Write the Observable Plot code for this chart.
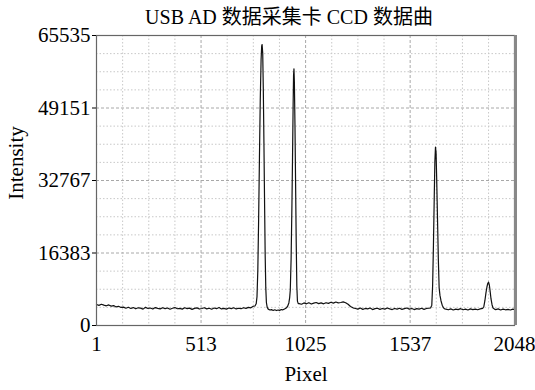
<!DOCTYPE html>
<html><head><meta charset="utf-8">
<script src="https://cdn.jsdelivr.net/npm/d3@7"></script>
<script src="https://cdn.jsdelivr.net/npm/@observablehq/plot@0.6"></script>
<style>body{margin:0;background:#fff}</style>
</head><body><div id="chart"></div>
<script>
const title = "USB AD 数据采集卡 CCD 数据曲";
const xLabel = "Pixel";
const yLabel = "Intensity";
const xTicks = [1, 513, 1025, 1537, 2048];
const yTicks = [0, 16383, 32767, 49151, 65535];
const xGrid = [129, 257, 385, 641, 769, 897, 1153, 1281, 1409, 1665, 1793, 1921];
const yGrid = [4096, 8192, 12288, 20480, 24576, 28672, 36864, 40960, 45056, 53248, 57344, 61440];

// [pixel, intensity]
const baselineLeft = [[1,4750],[13,4550],[25,4800],[37,4600],[49,4450],[61,4650],[73,4380],[85,4500],[97,4200],[109,4350],[121,4080],[133,4150],[145,3900],[157,4120],[169,3850],[181,4050],[193,3780],[205,4000],[217,3920],[229,3700],[241,4100],[253,3850],[265,3950],[277,3720],[289,4050],[301,3880],[313,3760],[325,4020],[337,3820],[349,3950],[361,3680],[373,3900],[385,4050],[397,3780],[409,3880],[421,3700],[433,4000],[445,3820],[457,3930],[469,3650],[481,3880],[493,3990],[505,3720],[517,3850],[529,4020],[541,3760],[553,3900],[565,3680],[577,3950],[589,3800],[601,4050],[613,3750],[625,3880],[637,3700],[649,3960],[661,3820],[673,4000],[685,3740],[697,3900],[709,3800],[721,4020],[733,3870],[745,4100],[757,4000],[769,4350]];
const peak1 = [[777,4400],[783,4900],[787,6500],[791,12500],[795,24000],[799,38000],[803,51000],[807,60000],[810,63200],[812,63500],[815,61500],[818,53000],[821,41000],[824,28000],[827,16000],[830,8500],[833,5200],[837,4100]];
const valley = [[842,3700],[850,3500],[858,3600],[866,3400],[874,3550],[882,3380],[890,3500],[898,3420],[906,3600],[914,3550],[922,3750],[930,3950],[937,4350],[943,5100],[947,6300]];
const peak2 = [[950,8000],[954,15000],[958,27000],[961,38000],[964,50000],[966,56500],[968,58000],[970,55000],[973,45000],[976,32000],[979,19000],[982,9000],[985,5500],[989,4950]];
const plateau = [[993,4950],[1005,4800],[1017,5100],[1029,4900],[1041,5150],[1053,4850],[1065,5050],[1077,5200],[1089,4950],[1101,5100],[1113,4900],[1125,5150],[1137,5000],[1149,5250],[1161,5050],[1173,5300],[1185,5100],[1197,5200],[1209,5350],[1221,5150],[1233,4800],[1245,4300],[1257,4000]];
const baselineMid = [[1269,3850],[1281,3700],[1293,3950],[1305,3650],[1317,3850],[1329,3750],[1341,3950],[1353,3600],[1365,3800],[1377,3900],[1389,3650],[1401,3850],[1413,3700],[1425,3950],[1437,3750],[1449,3600],[1461,3850],[1473,3700],[1485,3900],[1497,3650],[1509,3800],[1521,3950],[1533,3700],[1545,3850],[1557,3600],[1569,3800],[1581,3700],[1593,3900],[1605,3650],[1617,3850],[1629,3900]];
const peak3 = [[1637,3950],[1643,4600],[1647,9000],[1651,18000],[1655,29000],[1658,37000],[1661,40300],[1664,39000],[1667,33000],[1671,24000],[1675,15000],[1679,8500],[1683,6800],[1688,5600],[1694,4600],[1700,4000],[1706,3750]];
const baselineRight = [[1712,3700],[1724,3550],[1736,3750],[1748,3500],[1760,3700],[1772,3600],[1784,3800],[1796,3550],[1808,3700],[1820,3500],[1832,3750],[1844,3600],[1856,3700],[1868,3550],[1880,3750],[1892,3850]];
const peak4 = [[1898,4300],[1903,5600],[1908,7300],[1913,8700],[1917,9500],[1921,9800],[1925,9100],[1929,7600],[1933,6000],[1938,4700],[1943,3950],[1950,3700]];
const tail = [[1956,3600],[1968,3750],[1980,3500],[1992,3700],[2004,3550],[2016,3650],[2028,3500],[2040,3700],[2048,3600]];

const data = [...baselineLeft, ...peak1, ...valley, ...peak2, ...plateau, ...baselineMid, ...peak3, ...baselineRight, ...peak4, ...tail]
  .map(([pixel, intensity]) => ({pixel, intensity}));

const fmt = d => String(d);
const plot = Plot.plot({
  width: 535, height: 390,
  marginTop: 35, marginBottom: 65, marginLeft: 96, marginRight: 21,
  style: {fontFamily: '"Liberation Serif","Times New Roman",serif', fontSize: "21px", background: "#fff", color: "#000"},
  x: {domain: [1, 2048]},
  y: {domain: [0, 65535]},
  marks: [
    Plot.ruleX(xGrid, {stroke: "#c8c8c8", strokeDasharray: "1.5,2"}),
    Plot.ruleY(yGrid, {stroke: "#c8c8c8", strokeDasharray: "1.5,2"}),
    Plot.ruleX(xTicks, {stroke: "#a8a8a8", strokeDasharray: "3,2"}),
    Plot.ruleY(yTicks, {stroke: "#a8a8a8", strokeDasharray: "3,2"}),
    Plot.line(data, {x: "pixel", y: "intensity", stroke: "#111", strokeWidth: 1.2}),
    Plot.frame({stroke: "#666", strokeWidth: 1.2}),
    Plot.ruleX([2048], {stroke: "#888", strokeWidth: 3, dx: 1}),
    Plot.axisX(xTicks, {tickSize: 0, tickPadding: 11, tickFormat: fmt, label: null}),
    Plot.axisY(yTicks, {tickSize: 4, tickPadding: 2, tickFormat: fmt, label: null})
  ]
});

const svg = d3.select(plot);
svg.append("text").attr("x", 289).attr("y", 24).attr("text-anchor", "middle")
  .style("font-family", '"Liberation Serif","Noto Sans CJK SC",serif').style("font-size", "20px").text(title);
svg.append("text").attr("transform", "translate(23,163) rotate(-90)").attr("text-anchor", "middle")
  .style("font-size", "21px").text(yLabel);
svg.append("text").attr("x", 306).attr("y", 381).attr("text-anchor", "middle")
  .style("font-size", "21px").text(xLabel);

document.getElementById("chart").appendChild(plot);
</script>
</body></html>
